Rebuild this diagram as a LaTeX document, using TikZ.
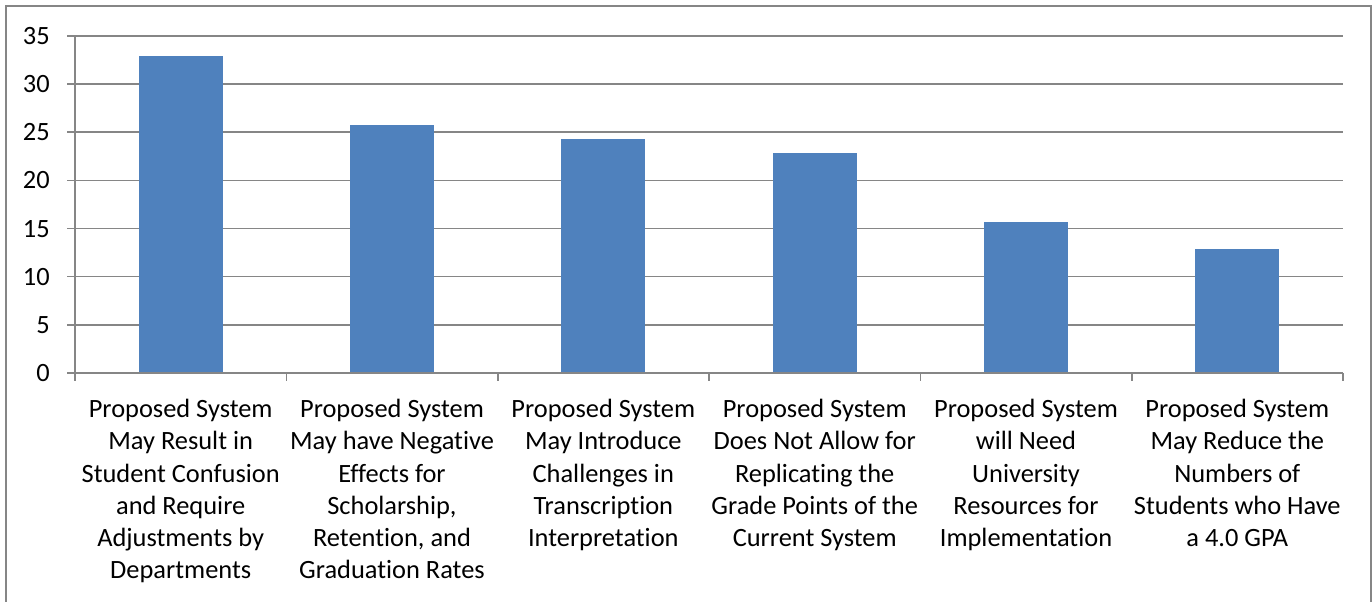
\documentclass[tikz,border=0pt]{standalone}
\usepackage{fontspec}
\setmainfont[Ligatures=NoCommon]{Carlito}

\definecolor{barblue}{HTML}{4F81BD}
\definecolor{gridgray}{HTML}{868686}

\tikzset{
  gridline/.style={gridgray,line width=1.2pt},
  framebox/.style={gridgray,line width=1.5pt},
  bar/.style={fill=barblue},
  num/.style={inner sep=0pt,anchor=east,font=\fontsize{19.8}{24.2}\selectfont},
  cat/.style={inner sep=0pt,anchor=north,align=center,font=\fontsize{19.8}{24.2}\selectfont}
}

\begin{document}
\begin{tikzpicture}[x=0.75pt,y=-0.75pt]

    \useasboundingbox (0,0) rectangle (1372,602);
    \draw[framebox] (6,602) -- (6,6) -- (1371,6) -- (1371,602);

    \coordinate (g35) at (67,36);    \coordinate (h35) at (1343,36);
    \coordinate (g30) at (67,84.1);  \coordinate (h30) at (1343,84.1);
    \coordinate (g25) at (67,132.3); \coordinate (h25) at (1343,132.3);
    \coordinate (g20) at (67,180.4); \coordinate (h20) at (1343,180.4);
    \coordinate (g15) at (67,228.6); \coordinate (h15) at (1343,228.6);
    \coordinate (g10) at (67,276.7); \coordinate (h10) at (1343,276.7);
    \coordinate (g5) at (67,324.9);  \coordinate (h5) at (1343,324.9);
    \coordinate (g0) at (67,373);    \coordinate (h0) at (1343,373);
    \draw[gridline] (g35) -- (h35);
    \draw[gridline] (g30) -- (h30);
    \draw[gridline] (g25) -- (h25);
    \draw[gridline] (g20) -- (h20);
    \draw[gridline] (g15) -- (h15);
    \draw[gridline] (g10) -- (h10);
    \draw[gridline] (g5) -- (h5);

    \node[num] (y35) at (50,36) {35};
    \node[num] (y30) at (50,84.1) {30};
    \node[num] (y25) at (50,132.3) {25};
    \node[num] (y20) at (50,180.4) {20};
    \node[num] (y15) at (50,228.6) {15};
    \node[num] (y10) at (50,276.7) {10};
    \node[num] (y5) at (50,324.9) {5};
    \node[num] (y0) at (50,373) {0};

    \fill[bar] (138.7,373) rectangle (222.7,56);
    \fill[bar] (350,373) rectangle (434,125.3);
    \fill[bar] (561.3,373) rectangle (645.3,139);
    \fill[bar] (772.7,373) rectangle (856.7,152.7);
    \fill[bar] (984,373) rectangle (1068,222.3);
    \fill[bar] (1195.3,373) rectangle (1279.3,249.3);

    \coordinate (top) at (75,36);
    \coordinate (t0) at (75,381);
    \coordinate (t1) at (286.3,381);
    \coordinate (t2) at (497.7,381);
    \coordinate (t3) at (709,381);
    \coordinate (t4) at (920.3,381);
    \coordinate (t5) at (1131.7,381);
    \coordinate (t6) at (1343,381);
    \draw[gridline] (top) -- (t0);
    \draw[gridline] (g0) -- (h0);
    \draw[gridline] (t1) -- (t1 |- g0);
    \draw[gridline] (t2) -- (t2 |- g0);
    \draw[gridline] (t3) -- (t3 |- g0);
    \draw[gridline] (t4) -- (t4 |- g0);
    \draw[gridline] (t5) -- (t5 |- g0);
    \draw[gridline] (t6) -- (t6 |- g0);

    \node[cat] (confusion) at (180.7,399) {Proposed System\\May Result in\\Student Confusion\\and Require\\Adjustments by\\Departments};
    \node[cat] (effects) at (392,399) {Proposed System\\May have Negative\\Effects for\\Scholarship,\\Retention, and\\Graduation Rates};
    \node[cat] (transcript) at (603.3,399) {Proposed System\\May Introduce\\Challenges in\\Transcription\\Interpretation};
    \node[cat] (replicate) at (814.7,399) {Proposed System\\Does Not Allow for\\Replicating the\\Grade Points of the\\Current System};
    \node[cat] (resources) at (1026,399) {Proposed System\\will Need\\University\\Resources for\\Implementation};
    \node[cat] (gpa) at (1237.3,399) {Proposed System\\May Reduce the\\Numbers of\\Students who Have\\a 4.0 GPA};

\end{tikzpicture}
\end{document}
